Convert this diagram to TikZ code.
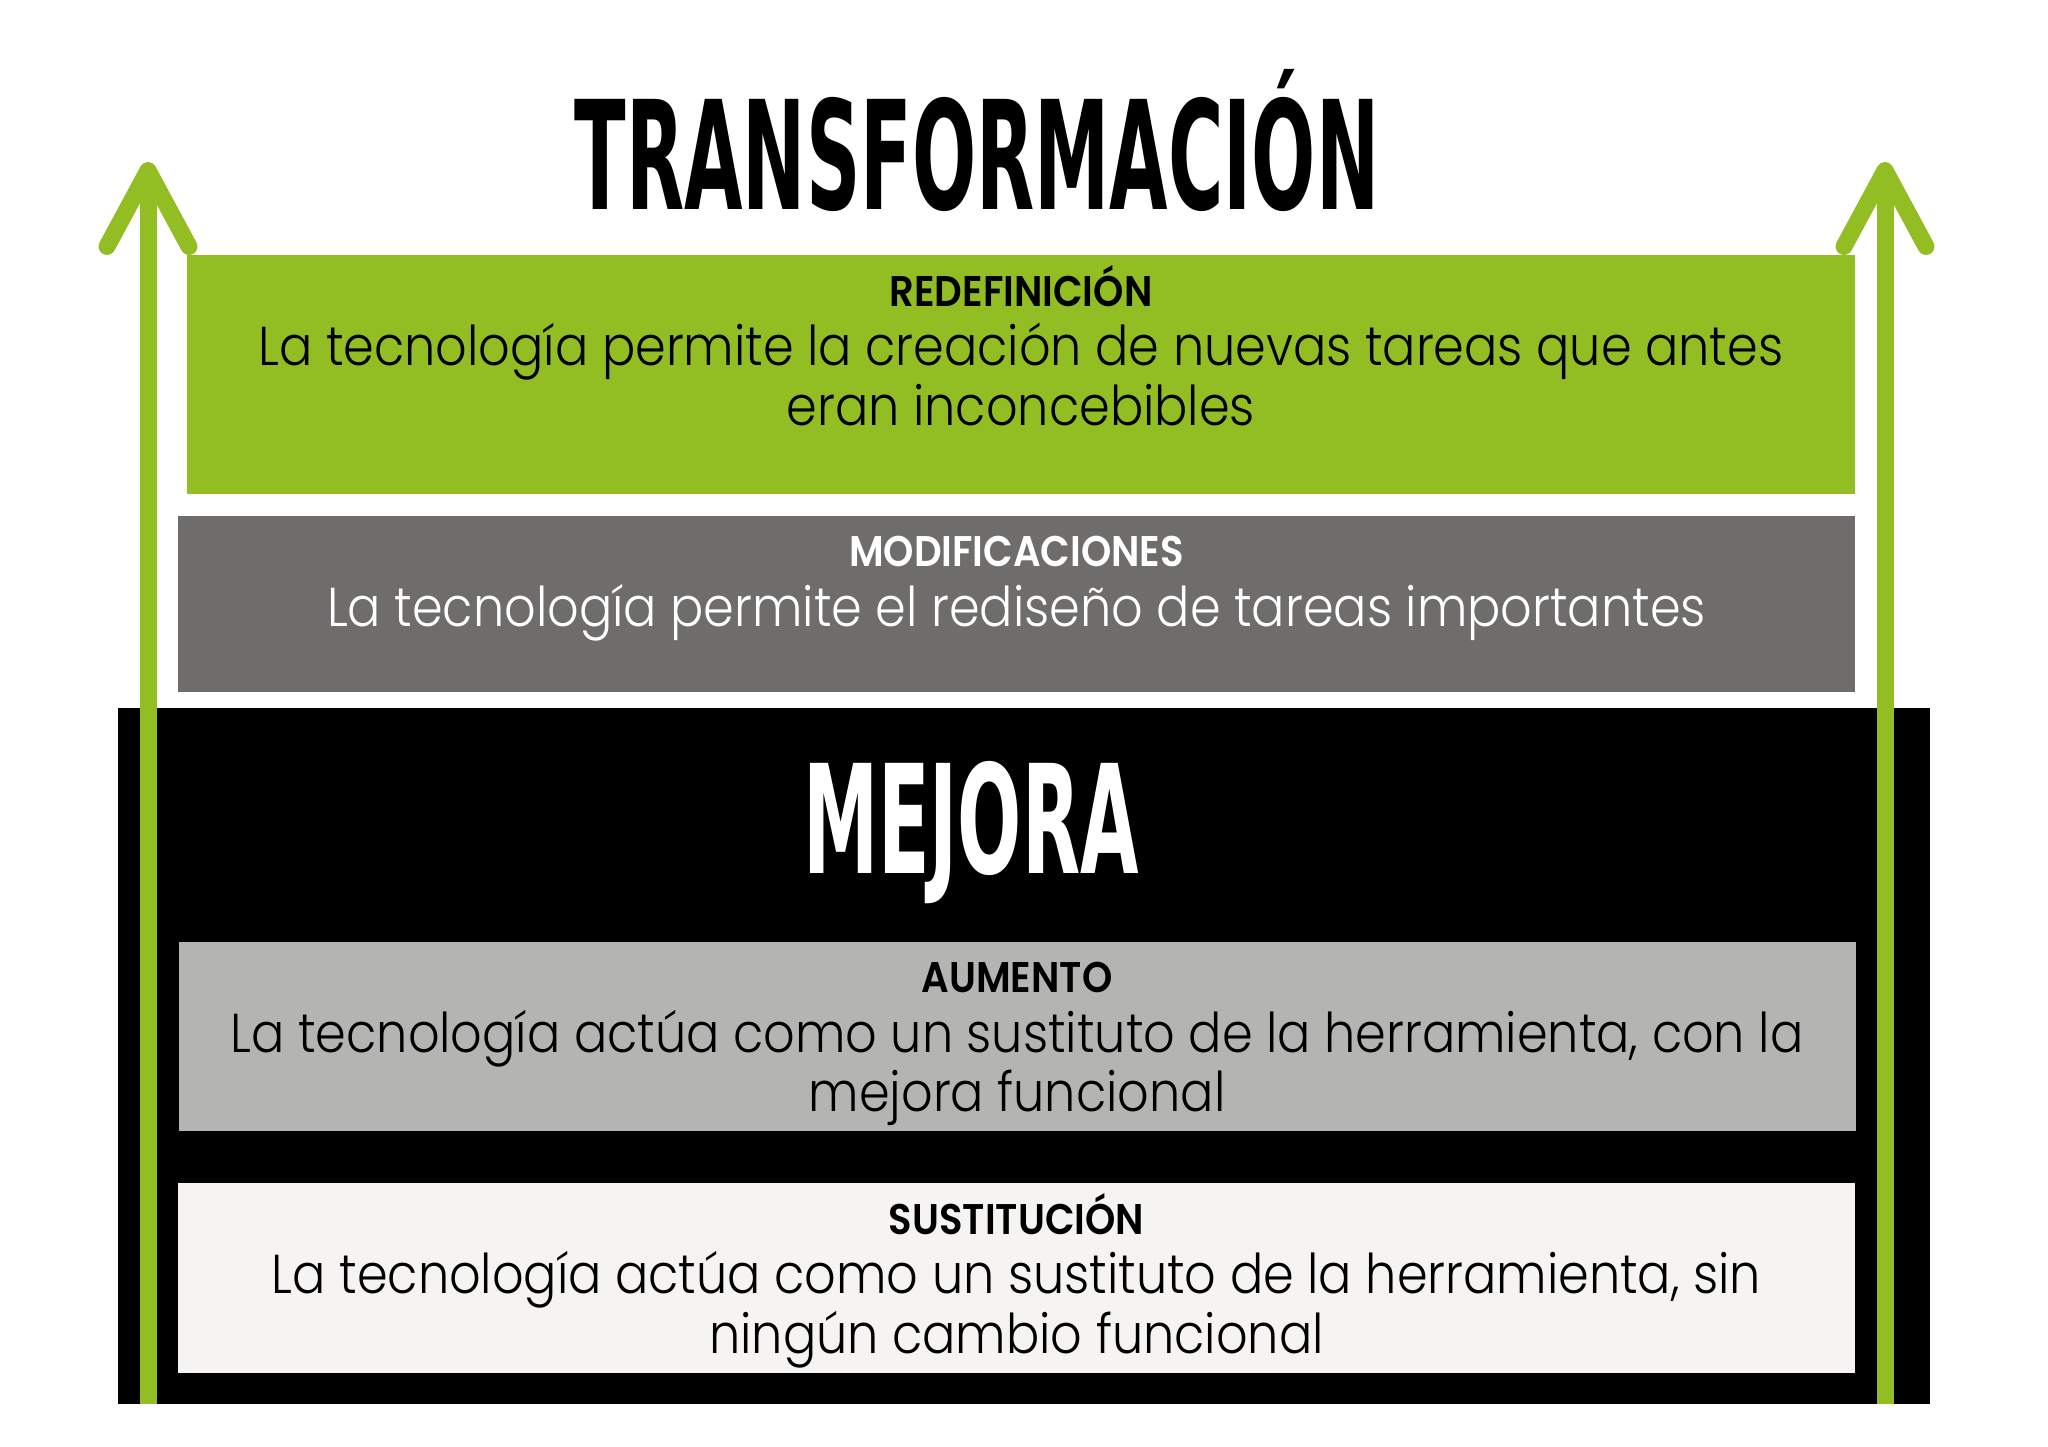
\documentclass[tikz,border=0pt]{standalone}
\usepackage{fontspec}
\setmainfont{Poppins}[UprightFont=* Light, BoldFont=* SemiBold, FakeStretch=0.9]
\newfontfamily\handfont[FakeStretch=0.5]{DejaVu Sans}
\usetikzlibrary{positioning,arrows.meta}
\definecolor{samrgreen}{RGB}{146,190,35}
\definecolor{samrdark}{RGB}{110,109,107}
\definecolor{samrlight}{RGB}{180,180,178}
\definecolor{samrpale}{RGB}{245,244,242}
\tikzset{
  level/.style={
    rectangle,
    inner sep=0pt,
    minimum width=16.77cm
  },
  level-text/.style={
    align=center,
    inner sep=0pt,
    font=\fontsize{15.6}{17}\selectfont
  },
  big-word/.style={
    inner sep=0pt,
    font=\handfont\bfseries\fontsize{43}{43}\selectfont
  },
  green-arrow/.style={
    draw=samrgreen,
    line width=1.7mm,
    line join=round,
    -{Straight Barb[length=7.6mm,width=8.2mm,round]}
  }
}
\newcommand{\levelhead}[1]{{\bfseries\fontsize{12.2}{17}\selectfont #1}}

\begin{document}
\begin{tikzpicture}
  \useasboundingbox (0,0) rectangle (20.48,-14.47);
  % black block
  \node[level, fill=black, minimum width=18.12cm, minimum height=6.96cm] (mejorabox) at (10.24,-10.56) {};
  % upper levels
  \node[level, fill=samrgreen, minimum width=16.68cm, minimum height=2.39cm] (redef) at (10.21,-3.745) {};
  \node[level, fill=samrdark, minimum height=1.76cm] (modif) at (10.165,-6.04) {};
  % lower levels
  \node[level, fill=samrlight, minimum height=1.89cm] (aum) at (10.17,-10.365) {};
  \node[level, fill=samrpale, minimum height=1.90cm] (sust) at (10.165,-12.78) {};
  % level texts
  \node[level-text, below=0.1cm of redef.north] (redeftext)
    {\levelhead{REDEFINICIÓN}\\
     La tecnología permite la creación de nuevas tareas que antes\\
     eran inconcebibles};
  \node[level-text, text=white, below=0.2cm of modif.north] (modiftext)
    {\levelhead{MODIFICACIONES}\\
     La tecnología permite el rediseño de tareas importantes};
  \node[level-text, below=0.2cm of aum.north] (aumtext)
    {\levelhead{AUMENTO}\\
     La tecnología actúa como un sustituto de la herramienta, con la\\
     mejora funcional};
  \node[level-text, below=0.1cm of sust.north] (susttext)
    {\levelhead{SUSTITUCIÓN}\\
     La tecnología actúa como un sustituto de la herramienta, sin\\
     ningún cambio funcional};
  % big words
  \node[big-word] (title) at (9.77,-1.41) {TRANSFORMACIÓN};
  \node[big-word, text=white] (mejora) at (9.71,-8.33) {MEJORA};
  % arrows
  \coordinate (lbase) at (1.48,-14.04);
  \coordinate (ltip) at (1.48,-1.62);
  \coordinate (rbase) at (18.85,-14.04);
  \coordinate (rtip) at (18.85,-1.62);
  \draw[green-arrow] (lbase) -- (ltip);
  \draw[green-arrow] (rbase) -- (rtip);
\end{tikzpicture}
\end{document}
